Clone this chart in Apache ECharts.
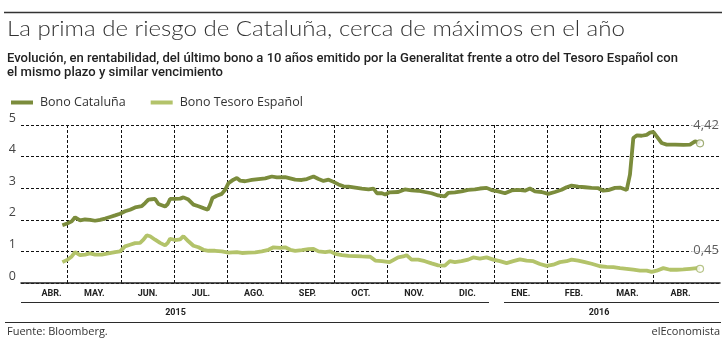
<!DOCTYPE html>
<html>
<head>
<meta charset="utf-8">
<script src="https://cdn.jsdelivr.net/npm/echarts@6/dist/echarts.min.js"></script>
<style>
html,body{margin:0;padding:0;background:#fff;}
#c{width:728px;height:345px;}
</style>
</head>
<body>
<div id="c"></div>
<script>
// ---- DATA ----
const titleText = 'La prima de riesgo de Cataluña, cerca de máximos en el año';
const subtitleLines = [
  'Evolución, en rentabilidad, del último bono a 10 años emitido por la Generalitat frente a otro del Tesoro Español con',
  'el mismo plazo y similar vencimiento'
];
const seriesNames = ['Bono Cataluña', 'Bono Tesoro Español'];
const monthLabels = ['ABR.','MAY.','JUN.','JUL.','AGO.','SEP.','OCT.','NOV.','DIC.','ENE.','FEB.','MAR.','ABR.'];
const yearLabels = ['2015', '2016'];
const sourceText = 'Fuente: Bloomberg.';
const brandText = 'elEconomista';

// x = months elapsed since 1 April 2015
const cataluniaX = [0.900,1.000,1.075,1.138,1.232,1.325,1.419,1.513,1.607,1.701,1.795,1.889,1.982,2.076,2.170,2.264,2.389,2.452,2.514,2.577,2.640,2.702,2.765,2.827,2.877,2.921,3.015,3.109,3.171,3.265,3.359,3.453,3.547,3.628,3.672,3.716,3.797,3.891,3.954,4.016,4.110,4.173,4.235,4.329,4.454,4.579,4.705,4.830,4.924,5.080,5.174,5.268,5.393,5.487,5.612,5.706,5.800,5.894,5.987,6.081,6.175,6.269,6.394,6.519,6.645,6.738,6.801,6.895,6.957,7.039,7.075,7.200,7.325,7.451,7.576,7.701,7.826,7.951,8.076,8.139,8.264,8.389,8.514,8.640,8.733,8.859,8.952,9.078,9.203,9.328,9.453,9.578,9.672,9.766,9.891,10.016,10.141,10.266,10.360,10.454,10.579,10.705,10.830,10.955,11.049,11.143,11.268,11.362,11.424,11.487,11.549,11.612,11.675,11.768,11.862,11.925,11.987,12.050,12.144,12.238,12.394,12.551,12.676,12.770,12.832,12.864];
const cataluniaY = [1.83,1.89,1.95,2.08,1.98,2.01,2.00,1.97,2.00,2.04,2.09,2.14,2.19,2.27,2.32,2.39,2.43,2.53,2.64,2.65,2.66,2.50,2.46,2.42,2.50,2.66,2.66,2.67,2.71,2.64,2.48,2.43,2.37,2.32,2.48,2.69,2.76,2.82,2.95,3.16,3.27,3.32,3.24,3.22,3.26,3.29,3.31,3.37,3.34,3.35,3.31,3.27,3.26,3.29,3.37,3.29,3.23,3.27,3.20,3.12,3.06,3.05,3.02,2.99,2.96,2.99,2.84,2.84,2.80,2.87,2.85,2.88,2.96,2.93,2.92,2.88,2.84,2.77,2.74,2.85,2.87,2.90,2.95,2.96,2.99,3.01,2.94,2.90,2.84,2.93,2.95,2.92,2.99,2.90,2.88,2.82,2.88,2.95,3.03,3.08,3.05,3.03,3.01,3.00,2.92,2.94,3.01,3.02,2.98,2.94,3.43,4.59,4.67,4.66,4.69,4.76,4.78,4.64,4.43,4.38,4.38,4.37,4.38,4.48,4.45,4.42];

const tesoroX = [0.900,1.000,1.075,1.138,1.232,1.325,1.419,1.513,1.638,1.763,1.889,1.982,2.076,2.170,2.264,2.358,2.421,2.483,2.546,2.640,2.733,2.827,2.877,2.921,3.015,3.109,3.171,3.265,3.359,3.453,3.547,3.641,3.766,3.891,4.016,4.173,4.267,4.392,4.517,4.642,4.767,4.861,4.986,5.080,5.174,5.268,5.393,5.518,5.612,5.706,5.831,5.925,6.019,6.144,6.269,6.394,6.519,6.676,6.770,6.895,7.039,7.075,7.200,7.294,7.357,7.451,7.576,7.701,7.826,7.951,8.076,8.170,8.264,8.389,8.514,8.608,8.733,8.859,8.984,9.109,9.234,9.359,9.484,9.610,9.735,9.860,9.985,10.110,10.235,10.360,10.454,10.579,10.705,10.830,10.986,11.111,11.237,11.362,11.487,11.612,11.737,11.862,11.956,12.050,12.175,12.300,12.426,12.551,12.676,12.801,12.864];
const tesoroY = [0.66,0.74,0.84,0.98,0.88,0.90,0.94,0.90,0.90,0.94,0.98,1.00,1.16,1.21,1.26,1.27,1.37,1.51,1.48,1.37,1.27,1.19,1.27,1.40,1.36,1.38,1.48,1.32,1.18,1.13,1.05,1.02,1.02,1.00,0.96,0.98,0.95,0.96,0.97,1.00,1.05,1.13,1.11,1.13,1.05,1.02,1.04,1.07,1.08,1.00,0.98,1.00,0.92,0.88,0.86,0.85,0.84,0.83,0.71,0.69,0.66,0.71,0.81,0.84,0.88,0.74,0.74,0.69,0.62,0.56,0.55,0.69,0.66,0.69,0.74,0.81,0.77,0.81,0.74,0.69,0.63,0.69,0.75,0.71,0.69,0.60,0.54,0.58,0.66,0.69,0.74,0.71,0.66,0.61,0.53,0.51,0.50,0.47,0.45,0.42,0.39,0.39,0.35,0.39,0.47,0.42,0.42,0.43,0.45,0.47,0.45];

// ---- STYLE ----
const C_DARK = '#7b8c3c';
const C_LIGHT = '#b3c36a';
const INK = '#2b2b2b';

const mctx = document.createElement('canvas').getContext('2d');
function fit(text, font, target) { mctx.font = font; return target / mctx.measureText(text).width; }

const titleFont = '300 22px Lato';
const subFont = '500 13.5px Roboto';
const titleScale = fit(titleText, titleFont, 618);
const sub1Scale = fit(subtitleLines[0], subFont, 671);
const sub2Scale = fit(subtitleLines[1], subFont, 216);

const pair = (xs, ys) => xs.map((x, i) => [x, ys[i]]);
const lastOf = (xs, ys) => [[xs[xs.length - 1], ys[ys.length - 1]]];
const dash = () => ({type: [3, 2], color: '#111', width: 1});
const HIDDEN = 'rgba(0,0,0,0)';

function endLabel() {
  return {
    show: true, position: 'inside', offset: [6, -18],
    formatter: p => p.value[1].toFixed(2).replace('.', ','),
    color: '#333', fontSize: 13, fontFamily: 'Open Sans',
    backgroundColor: '#fff', padding: [0, 2]
  };
}

const chart = echarts.init(document.getElementById('c'));
chart.setOption({
  animation: false,
  backgroundColor: '#fff',
  legend: {
    data: seriesNames, left: 6, top: 91, icon: 'rect',
    itemWidth: 22, itemHeight: 4, itemGap: 25,
    textStyle: {fontSize: 12.5, color: '#333', fontFamily: 'Open Sans', padding: [0, 0, 0, 2]}
  },
  grid: [
    {left: 21, right: 8, top: 125, bottom: 62},        // frame: y labels, horizontal lines, baseline
    {left: 67.7, right: 74.3, top: 125, bottom: 62},   // month boundary lines: May (1) .. Apr (12)
    {left: 14.4, right: 20.7, top: 125, bottom: 62}    // data + month labels: 1 Apr 2015 (0) .. (13)
  ],
  xAxis: [
    {gridIndex: 0, type: 'value', min: 0, max: 1,
     axisLine: {show: true, lineStyle: {color: '#222', width: 1.5}},
     axisTick: {show: false}, axisLabel: {show: false}, splitLine: {show: false}},
    {gridIndex: 1, type: 'value', min: 1, max: 12, interval: 1, position: 'top',
     axisLine: {show: true, lineStyle: {color: HIDDEN}},
     axisTick: {show: true, lineStyle: {color: HIDDEN}},
     axisLabel: {show: true, color: HIDDEN},
     splitLine: {show: true, lineStyle: dash()}},
    {gridIndex: 2, type: 'category', data: monthLabels, boundaryGap: true, position: 'bottom',
     axisLine: {show: false}, axisTick: {show: false},
     axisLabel: {
       interval: 0, margin: 6, fontSize: 9, fontWeight: 'bold', color: '#222', fontFamily: 'Roboto',
       formatter: (v, i) => i === 0 ? '{f|' + v + '}' : v,
       rich: {f: {padding: [0, 0, 0, 21], fontSize: 9, fontWeight: 'bold', color: '#222', fontFamily: 'Roboto'}}
     },
     splitLine: {show: false}},
    {gridIndex: 2, type: 'value', min: 0, max: monthLabels.length, position: 'top', show: false}
  ],
  yAxis: [
    {gridIndex: 0, type: 'value', min: 0, max: 5, interval: 1,
     axisLine: {show: false}, axisTick: {show: false},
     axisLabel: {margin: 5, fontSize: 12.5, color: '#444', fontFamily: 'Open Sans', verticalAlign: 'bottom', lineHeight: 14},
     splitLine: {show: true, lineStyle: dash()}},
    {gridIndex: 1, type: 'value', min: 0, max: 5, interval: 1,
     axisLine: {show: false}, axisTick: {show: false}, axisLabel: {show: true, color: HIDDEN}, splitLine: {show: false}},
    {gridIndex: 2, type: 'value', min: 0, max: 5, show: false}
  ],
  series: [
    {name: seriesNames[0], type: 'line', xAxisIndex: 3, yAxisIndex: 2, data: pair(cataluniaX, cataluniaY),
     symbol: 'none', showSymbol: false, lineStyle: {width: 3.8, color: C_DARK}, itemStyle: {color: C_DARK}, z: 4},
    {name: seriesNames[1], type: 'line', xAxisIndex: 3, yAxisIndex: 2, data: pair(tesoroX, tesoroY),
     symbol: 'none', showSymbol: false, lineStyle: {width: 3.8, color: C_LIGHT}, itemStyle: {color: C_LIGHT}, z: 3},
    {name: 'endC', type: 'scatter', xAxisIndex: 3, yAxisIndex: 2, data: lastOf(cataluniaX, cataluniaY),
     symbol: 'circle', symbolSize: 7, itemStyle: {color: '#fff', borderColor: '#8a9a55', borderWidth: 1.2},
     label: endLabel(), z: 6},
    {name: 'endT', type: 'scatter', xAxisIndex: 3, yAxisIndex: 2, data: lastOf(tesoroX, tesoroY),
     symbol: 'circle', symbolSize: 7, itemStyle: {color: '#fff', borderColor: '#a5b56a', borderWidth: 1.2},
     label: endLabel(), z: 6}
  ],
  graphic: [
    {type: 'line', shape: {x1: 4, y1: 12.5, x2: 722, y2: 12.5}, style: {stroke: '#333', lineWidth: 1.5}},
    {type: 'text', x: 7, y: 29, scaleX: titleScale,
     style: {text: titleText, font: titleFont, fill: '#333', verticalAlign: 'middle'}},
    {type: 'text', x: 7, y: 58.5, scaleX: sub1Scale,
     style: {text: subtitleLines[0], font: subFont, fill: '#222', verticalAlign: 'middle'}},
    {type: 'text', x: 7, y: 73, scaleX: sub2Scale,
     style: {text: subtitleLines[1], font: subFont, fill: '#222', verticalAlign: 'middle'}},
    {type: 'line', shape: {x1: 21, y1: 302.5, x2: 489, y2: 302.5}, style: {stroke: INK, lineWidth: 1}},
    {type: 'line', shape: {x1: 504, y1: 302.5, x2: 719, y2: 302.5}, style: {stroke: INK, lineWidth: 1}},
    {type: 'line', shape: {x1: 5, y1: 322.5, x2: 721, y2: 322.5}, style: {stroke: INK, lineWidth: 1}},
    {type: 'text', x: 175.5, y: 312.7,
     style: {text: yearLabels[0], font: 'bold 9px Roboto', fill: '#222', align: 'center', verticalAlign: 'middle'}},
    {type: 'text', x: 599, y: 312.7,
     style: {text: yearLabels[1], font: 'bold 9px Roboto', fill: '#222', align: 'center', verticalAlign: 'middle'}},
    {type: 'text', x: 7, y: 331.5,
     style: {text: sourceText, font: '11px "Open Sans"', fill: '#333', verticalAlign: 'middle'}},
    {type: 'text', x: 720, y: 331.5,
     style: {text: brandText, font: '11px "Open Sans"', fill: '#333', align: 'right', verticalAlign: 'middle'}}
  ]
});
</script>
</body>
</html>
